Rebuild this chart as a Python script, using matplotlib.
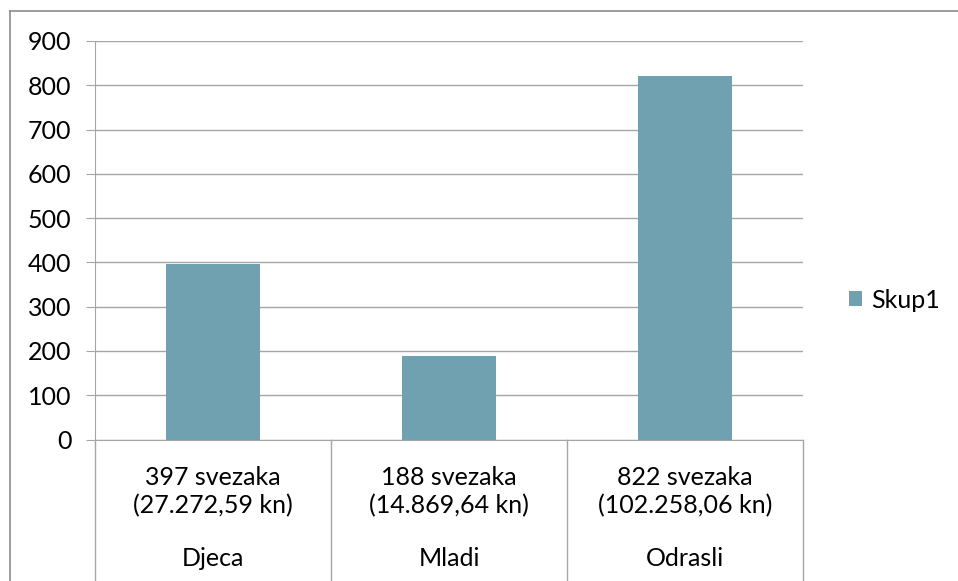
import matplotlib.pyplot as plt
from matplotlib.lines import Line2D

# data
groups = ['Djeca', 'Mladi', 'Odrasli']
sub_labels = ['397 svezaka\n(27.272,59 kn)', '188 svezaka\n(14.869,64 kn)', '822 svezaka\n(102.258,06 kn)']
values = [397, 188, 822]
series_name = 'Skup1'

plt.rcParams['font.family'] = ['Lato', 'DejaVu Sans']

W, H = 958, 581
fig = plt.figure(figsize=(W / 100, H / 100), dpi=100)
ax = fig.add_axes([95 / W, (H - 439.5) / H, 708 / W, 398.5 / H])

bar_color = '#6FA1B1'
grid_color = '#A6A6A6'
fs = 18
x = range(len(values))
ax.bar(x, values, width=0.4, color=bar_color, label=series_name, zorder=3)

ax.set_xlim(-0.5, len(values) - 0.5)
ax.set_ylim(0, 900)
ax.set_yticks(range(0, 901, 100))
ax.tick_params(axis='y', length=6.5, color=grid_color, labelsize=fs, pad=10.5)
ax.set_xticks([])
ax.grid(axis='y', color=grid_color, linewidth=1, zorder=0)
for s in ['top', 'right']:
    ax.spines[s].set_visible(False)
ax.spines['left'].set_color(grid_color)
ax.spines['bottom'].set_color(grid_color)

# multi-level category labels
tr = ax.get_xaxis_transform()
low = -(H - 439.5) / 398.5 - 0.05
for i, (sub, grp) in enumerate(zip(sub_labels, groups)):
    ax.text(i, -0.131, sub, transform=tr, ha='center', va='center',
            fontsize=fs, linespacing=1.3)
    ax.text(i, -0.298, grp, transform=tr, ha='center', va='center', fontsize=fs)
for b in [-0.5, 0.5, 1.5, 2.5]:
    ax.add_line(Line2D([b, b], [0, low], transform=tr, color=grid_color,
                       linewidth=1, clip_on=False))

ax.legend(loc='center left', bbox_to_anchor=(826 / W, 1 - 300 / H),
          bbox_transform=fig.transFigure, frameon=False, fontsize=fs,
          handlelength=0.55, handleheight=0.55, handletextpad=0.35)

# chart area border
fig.add_artist(Line2D([9.5 / W, 9.5 / W], [0, 1 - 11 / H], color='#8C8C8C', linewidth=1.2))
fig.add_artist(Line2D([9.5 / W, 1], [1 - 11 / H, 1 - 11 / H], color='#8C8C8C', linewidth=1.2))

fig.savefig('out.png', dpi=100)
